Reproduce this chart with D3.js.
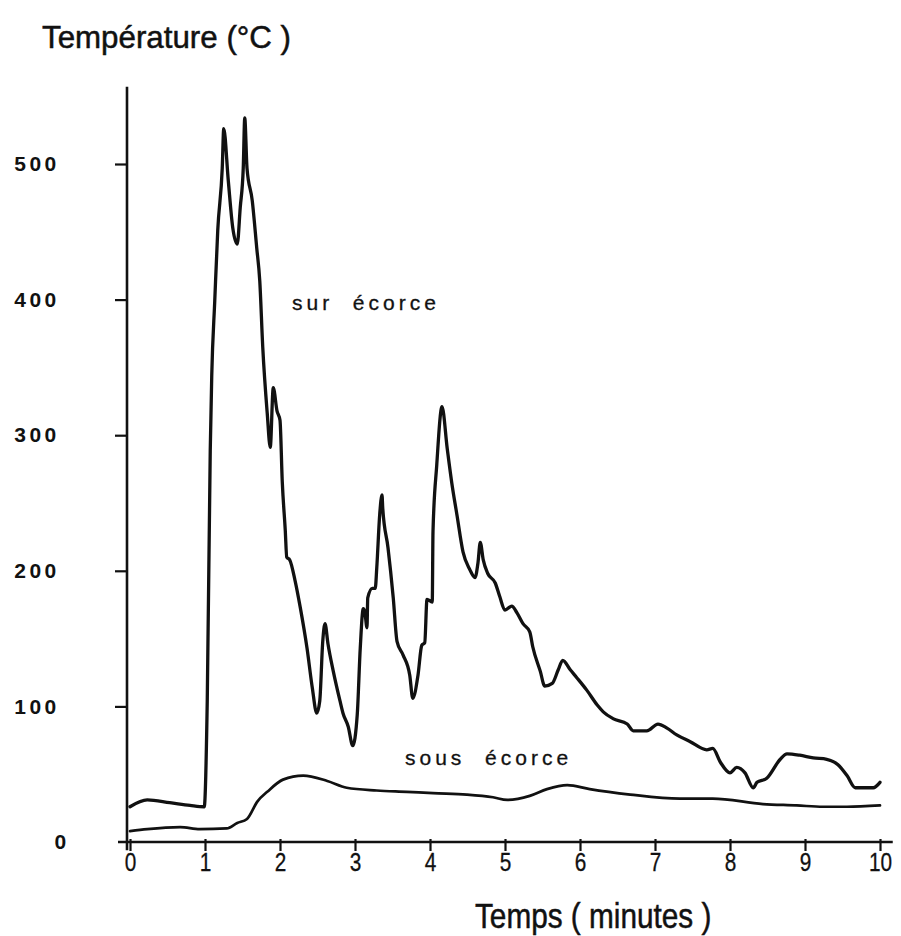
<!DOCTYPE html>
<html>
<head>
<meta charset="utf-8">
<script src="https://cdn.jsdelivr.net/npm/d3@7.9.0/dist/d3.min.js"></script>
<style>
  body { margin: 0; background: #fff; }
  svg { display: block; font-family: "Liberation Sans", Arial, sans-serif; }
  .curve { fill: none; stroke: #111; stroke-linejoin: round; stroke-linecap: round; }
  .lbl { white-space: pre; fill: #111; }
</style>
</head>
<body>
<svg id="chart" width="901" height="936"></svg>
<script>
// temps (minutes) / température (°C)
const surTime = [0, 0.23, 0.53, 0.8, 0.99, 1.03, 1.07, 1.09, 1.13, 1.17, 1.23, 1.25, 1.31, 1.37, 1.43,
  1.47, 1.51, 1.53, 1.56, 1.63, 1.69, 1.73, 1.77, 1.83, 1.87, 1.91, 1.96, 2.0, 2.03, 2.07, 2.09, 2.13,
  2.2, 2.27, 2.36, 2.43, 2.49, 2.53, 2.57, 2.6, 2.64, 2.71, 2.8, 2.84, 2.91, 2.97, 3.03, 3.07, 3.11,
  3.13, 3.16, 3.17, 3.23, 3.27, 3.29, 3.33, 3.36, 3.37, 3.44, 3.51, 3.56, 3.64, 3.73, 3.77, 3.84,
  3.89, 3.93, 3.96, 4.03, 4.04, 4.09, 4.16, 4.23, 4.29, 4.36, 4.44, 4.53, 4.6, 4.64, 4.67, 4.71,
  4.77, 4.87, 4.93, 5.0, 5.09, 5.16, 5.24, 5.33, 5.37, 5.47, 5.53, 5.63, 5.71, 5.77, 5.87, 5.96,
  6.09, 6.23, 6.31, 6.44, 6.63, 6.71, 6.89, 7.04, 7.16, 7.29, 7.47, 7.69, 7.77, 7.87, 8.0, 8.09,
  8.2, 8.31, 8.36, 8.49, 8.67, 8.76, 8.93, 9.11, 9.29, 9.44, 9.56, 9.67, 9.83, 9.91, 10];
const surTemp = [26, 31, 29, 27, 26, 104, 289, 344, 399, 451, 497, 526, 488, 453, 441,
  468, 497, 534, 497, 473, 438, 414, 365, 316, 291, 335, 318, 311, 266, 230, 210, 208,
  193, 173, 143, 114, 95, 104, 148, 161, 146, 126, 104, 95, 85, 71, 94, 143, 172,
  170, 158, 180, 187, 187, 202, 242, 256, 246, 217, 180, 148, 138, 123, 106, 123,
  145, 147, 179, 177, 229, 278, 321, 290, 265, 241, 214, 201, 195, 206, 221, 208,
  198, 191, 181, 171, 174, 169, 161, 155, 144, 126, 115, 117, 127, 134, 127, 121,
  112, 101, 96, 91, 87, 82, 82, 87, 84, 79, 74, 68, 69, 59, 51, 55,
  51, 40, 44, 47, 61, 65, 64, 62, 61, 57, 49, 40, 40, 40, 44];

const sousTime = [0, 0.23, 0.67, 0.93, 1.29, 1.43, 1.56, 1.7, 1.83, 2.04, 2.31, 2.63, 2.89, 3.29,
  3.69, 4.04, 4.49, 4.84, 5.03, 5.33, 5.56, 5.83, 6.13, 6.67, 7.33, 7.77, 8.44, 8.89, 9.24, 9.56, 10];
const sousTemp = [8, 9.5, 11, 9.5, 10, 14, 17, 30, 37, 46, 49, 45, 40, 38,
  37, 36, 35, 33, 31, 34, 39, 42, 39, 35, 32, 32, 28, 27, 26, 26, 27];

const xTicks = [0, 1, 2, 3, 4, 5, 6, 7, 8, 9, 10];
const yTicks = [0, 100, 200, 300, 400, 500];

const svg = d3.select("#chart");
const x = d3.scaleLinear().domain([0, 10]).range([130, 880]);
const y = d3.scaleLinear().domain([0, 500]).range([842, 164]);

// axes lines
svg.append("line")
  .attr("x1", x(-0.04)).attr("x2", x(-0.04))
  .attr("y1", y(557)).attr("y2", y(-6))
  .attr("stroke", "#111").attr("stroke-width", 2.6);
svg.append("line")
  .attr("x1", x(-0.16)).attr("x2", x(10.17))
  .attr("y1", y(0)).attr("y2", y(0))
  .attr("stroke", "#111").attr("stroke-width", 2.6);

// y axis
const yAxis = svg.append("g")
  .attr("transform", `translate(${x(-0.04)},0)`)
  .call(d3.axisLeft(y).tickValues(yTicks).tickSize(12).tickPadding(58));
yAxis.select(".domain").remove();
yAxis.selectAll(".tick line").attr("stroke", "#111").attr("stroke-width", 2.2)
  .filter(d => d === 0).remove();
yAxis.selectAll(".tick text")
  .attr("fill", "#111")
  .attr("text-anchor", "middle")
  .attr("dx", d => d === 0 ? 5 : -20)
  .style("font-size", "21px").style("font-weight", "bold").style("letter-spacing", "3.5px");

// x axis
const xAxis = svg.append("g")
  .attr("transform", `translate(0,${y(0)})`)
  .call(d3.axisBottom(x).tickValues(xTicks).tickSize(9).tickPadding(2));
xAxis.select(".domain").remove();
xAxis.selectAll(".tick line").attr("stroke", "#111").attr("stroke-width", 2.2).attr("y1", -3);
xAxis.selectAll(".tick text")
  .attr("fill", "#111")
  .attr("stroke", "#111").attr("stroke-width", 0.3)
  .style("font-size", "26px")
  .attr("transform", "scale(0.8,1)");

// curves
const line = d3.line().x(d => x(d[0])).y(d => y(d[1])).curve(d3.curveMonotoneX);
svg.append("path").attr("class", "curve")
  .attr("stroke-width", 3.3)
  .attr("d", line(d3.zip(surTime, surTemp)));
svg.append("path").attr("class", "curve")
  .attr("stroke-width", 2.7)
  .attr("d", line(d3.zip(sousTime, sousTemp)));

// labels
svg.append("text").attr("class", "lbl").attr("x", 292).attr("y", 310)
  .style("font-size", "21px").style("letter-spacing", "4px")
  .attr("stroke", "#111").attr("stroke-width", 0.3)
  .text("sur  écorce");
svg.append("text").attr("class", "lbl").attr("x", 405).attr("y", 765)
  .style("font-size", "21px").style("letter-spacing", "4px")
  .attr("stroke", "#111").attr("stroke-width", 0.3)
  .text("sous  écorce");

svg.append("text").attr("class", "lbl")
  .attr("transform", "translate(42,48) scale(1.01,1)")
  .style("font-size", "31px").attr("stroke", "#111").attr("stroke-width", 0.5)
  .text("Température (°C )");
svg.append("text").attr("class", "lbl")
  .attr("transform", "translate(475,928) scale(0.85,1)")
  .style("font-size", "35px").attr("stroke", "#111").attr("stroke-width", 0.5)
  .text("Temps ( minutes )");
</script>
</body>
</html>
